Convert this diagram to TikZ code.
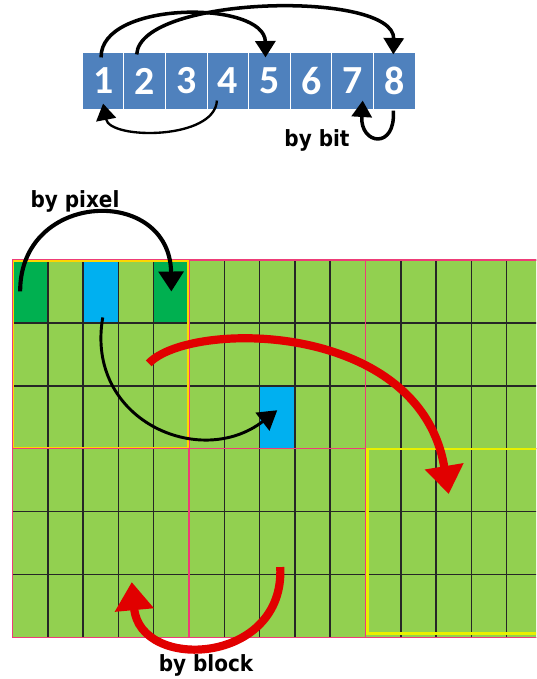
\documentclass[tikz,border=0pt]{standalone}
\usepackage{fontspec}
\newfontfamily\digitfont{Carlito}
\newfontfamily\tagfont{DejaVu Sans Condensed}
\usetikzlibrary{positioning,arrows.meta,calc}
\definecolor{bitblue}{RGB}{79,129,189}
\definecolor{cellgreen}{RGB}{146,208,80}
\definecolor{pixgreen}{RGB}{0,176,80}
\definecolor{pixcyan}{RGB}{0,176,240}
\definecolor{blkpink}{RGB}{238,60,120}
\definecolor{blkyellow}{RGB}{255,214,0}
\definecolor{selyellow}{RGB}{232,240,0}
\definecolor{arrred}{RGB}{225,0,0}

\begin{document}
\begin{tikzpicture}[x=0.03cm,y=-0.03cm,
 bitbox/.style={fill=bitblue,draw=white,line width=1pt,minimum width=1.248cm,
 minimum height=1.74cm,inner sep=0pt,text=white,
 font=\digitfont\bfseries\fontsize{34}{34}\selectfont},
 cell/.style={minimum width=1.059cm,minimum height=1.887cm,inner sep=0pt,outer sep=0pt},
 blk/.style={draw=blkpink,line width=0.9pt,minimum width=5.295cm,minimum height=5.661cm,
 inner sep=0pt,outer sep=0pt},
 tag/.style={font=\tagfont\bfseries\fontsize{19}{19}\selectfont},
 bk/.style={-{Triangle[length=14pt,width=17pt]},line width=3pt,black},
 rd/.style={-{Triangle[length=24pt,width=32pt]},line width=7pt,arrred}]
\useasboundingbox (0,0) rectangle (536,679);
\clip (0,0) rectangle (536,679);
% bit row
\foreach \i in {1,...,8}
 \node[bitbox] (b\i) at ({82.3+41.6*(\i-0.5)},81) {\i};
% pixel grid
\fill[cellgreen] (12.5,260) rectangle (545,637.5);
\node[cell,fill=pixgreen] (p0) at (30.15,291.45) {};
\node[cell,fill=pixcyan] (p2) at (100.75,291.45) {};
\node[cell,fill=pixgreen] (p4) at (171.35,291.45) {};
\node[cell,fill=pixcyan] (p7) at (277.25,417.25) {};
\foreach \c in {0,...,15}
 \draw[black!85,line width=1.3pt] ({12.5+35.3*\c},260) -- ++(0,377.5);
\foreach \r in {0,...,6}
 \draw[black!85,line width=1.3pt] (12.5,{260+62.9*\r}) -- ++(540,0);
% blocks
\node[blk] (blkA) at (100.75,354.35) {};
\node[blk] (blkB) at (277.25,354.35) {};
\node[blk] (blkC) at (453.75,354.35) {};
\node[blk] (blkD) at (100.75,543.05) {};
\node[blk] (blkE) at (277.25,543.05) {};
\node[blk] (blkF) at (453.75,543.05) {};
\draw[blkyellow,line width=0.9pt] ($(blkA.north west)+(1,1)$) rectangle ($(blkA.south east)+(-1,-1)$);
\draw[selyellow,line width=2pt] ($(blkF.north west)+(2,0)$) rectangle ($(blkF.south east)+(10,-4)$);
% by bit
\draw[bk] ($(b1.north)+(-2,6)$) .. controls (100,0) and (265,0) .. ($(b5.north)+(-4,6)$);
\draw[bk] ($(b2.north)+(-8,3)$) .. controls (140,-5) and (395,-10) .. ($(b8.north)+(-1,3)$);
\draw[bk,line width=2pt] ($(b4.south)+(-11,-10)$) .. controls (215,140) and (110,140) .. ($(b1.south)+(0,-7)$);
\draw[bk] ($(b8.south)+(-1,0)$) .. controls (396,150) and (360,145) .. ($(b7.south)+(10,-10)$);
\node[tag] (bitlbl) at (317,140) {by bit};
% by pixel
\draw[bk,line width=3.5pt,-{Triangle[length=17pt,width=21pt]}] ($(p0.center)+(-10,0)$) .. controls (20,190) and (170,185) .. (p4.center);
\draw[bk,line width=2.5pt,-{Triangle[length=16pt,width=19pt]}] ($(p2.center)+(2,26)$) .. controls (85,420) and (200,470) .. ($(p7.center)+(0,-7)$);
\node[tag] (pixlbl) at (75,201) {by pixel};
% by block
\draw[rd] ($(blkA.center)+(48,9)$) .. controls (190,320) and (420,320) .. ($(blkF.center)+(-5,-49)$);
\draw[rd] ($(blkE.center)+(3,24)$) .. controls (285,665) and (140,672) .. ($(blkD.center)+(31,39)$);
\node[tag] (blklbl) at (206,665) {by block};
\end{tikzpicture}
\end{document}
